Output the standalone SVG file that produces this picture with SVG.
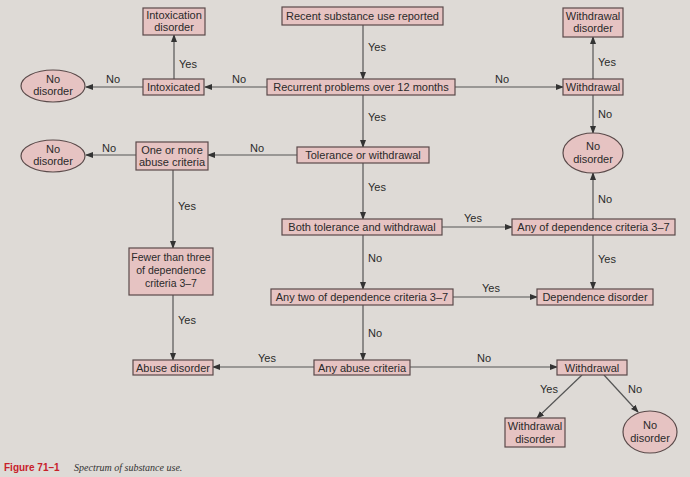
<svg xmlns="http://www.w3.org/2000/svg" width="690" height="477" viewBox="0 0 690 477">
<defs>
<marker id="a" markerWidth="8" markerHeight="8" refX="7" refY="4" orient="auto" markerUnits="userSpaceOnUse"><path d="M0,1 L8,4 L0,7 z" fill="#333"/></marker>
<style>
.b{fill:#e6c3c2;stroke:#5a4a4a;stroke-width:1.2}
.t{font-family:"Liberation Sans",Arial,sans-serif;font-size:11px;fill:#2a2a2a;text-anchor:middle}
.s{font-size:10.5px}
.l{font-family:"Liberation Sans",Arial,sans-serif;font-size:11px;fill:#2a2a2a}
#c line,#c path{stroke:#555;stroke-width:1.2;fill:none;marker-end:url(#a)}
</style>
</defs>
<rect width="690" height="477" fill="#dedad6"/>
<g id="c">
<line x1="363" y1="25" x2="363" y2="79"/>
<line x1="267" y1="87" x2="205" y2="87"/>
<line x1="455" y1="87" x2="563" y2="87"/>
<line x1="174" y1="79" x2="174" y2="35"/>
<line x1="143" y1="87" x2="86" y2="87"/>
<line x1="593" y1="79" x2="593" y2="37"/>
<line x1="593" y1="95" x2="593" y2="133"/>
<line x1="363" y1="95" x2="363" y2="147"/>
<line x1="297" y1="155" x2="208" y2="155"/>
<line x1="136" y1="155" x2="86" y2="155"/>
<line x1="173" y1="170" x2="173" y2="248"/>
<line x1="173" y1="295" x2="173" y2="360"/>
<line x1="363" y1="163" x2="363" y2="219"/>
<line x1="442" y1="227" x2="512" y2="227"/>
<line x1="593" y1="219" x2="593" y2="173"/>
<line x1="593" y1="235" x2="593" y2="289"/>
<line x1="363" y1="235" x2="363" y2="289"/>
<line x1="453" y1="297" x2="537" y2="297"/>
<line x1="363" y1="305" x2="363" y2="360"/>
<line x1="314" y1="367" x2="213" y2="367"/>
<line x1="410" y1="367" x2="557" y2="367"/>
<line x1="582" y1="375" x2="537" y2="418"/>
<line x1="604" y1="375" x2="638" y2="412"/>
</g>
<g id="labels" class="l">
<text x="368" y="51">Yes</text>
<text x="232" y="83">No</text>
<text x="495" y="83">No</text>
<text x="179" y="68">Yes</text>
<text x="106" y="83">No</text>
<text x="598" y="66">Yes</text>
<text x="598" y="118">No</text>
<text x="368" y="121">Yes</text>
<text x="250" y="152">No</text>
<text x="102" y="152">No</text>
<text x="178" y="210">Yes</text>
<text x="178" y="324">Yes</text>
<text x="368" y="191">Yes</text>
<text x="464" y="222">Yes</text>
<text x="598" y="203">No</text>
<text x="598" y="263">Yes</text>
<text x="368" y="262">No</text>
<text x="482" y="292">Yes</text>
<text x="368" y="337">No</text>
<text x="258" y="362">Yes</text>
<text x="477" y="362">No</text>
<text x="540" y="393">Yes</text>
<text x="628" y="393">No</text>
</g>
<g id="n1"><rect class="b" x="282" y="7" width="161" height="18"/><text class="t" x="362.5" y="20">Recent substance use reported</text></g>
<g id="n2"><rect class="b" x="143" y="8" width="62" height="27"/><text class="t" x="174" y="19">Intoxication</text><text class="t" x="174" y="31">disorder</text></g>
<g id="n3"><rect class="b" x="563" y="8" width="60" height="29"/><text class="t" x="593" y="20">Withdrawal</text><text class="t" x="593" y="32">disorder</text></g>
<g id="n4"><ellipse class="b" cx="53" cy="86" rx="32" ry="16"/><text class="t" x="53" y="83">No</text><text class="t" x="53" y="95">disorder</text></g>
<g id="n5"><rect class="b" x="143" y="79" width="61" height="16"/><text class="t" x="173.5" y="91">Intoxicated</text></g>
<g id="n6"><rect class="b" x="267" y="79" width="188" height="16"/><text class="t" x="361" y="91">Recurrent problems over 12 months</text></g>
<g id="n7"><rect class="b" x="563" y="79" width="60" height="16"/><text class="t" x="593" y="91">Withdrawal</text></g>
<g id="n8"><ellipse class="b" cx="593" cy="153" rx="30" ry="20"/><text class="t" x="593" y="150">No</text><text class="t" x="593" y="163">disorder</text></g>
<g id="n9"><ellipse class="b" cx="53" cy="156" rx="32" ry="16"/><text class="t" x="53" y="153">No</text><text class="t" x="53" y="165">disorder</text></g>
<g id="n10"><rect class="b" x="136" y="142" width="72" height="28"/><text class="t" x="172" y="154">One or more</text><text class="t" x="172" y="166">abuse criteria</text></g>
<g id="n11"><rect class="b" x="297" y="147" width="132" height="16"/><text class="t" x="363" y="159">Tolerance or withdrawal</text></g>
<g id="n12"><rect class="b" x="282" y="219" width="160" height="16"/><text class="t" x="362" y="231">Both tolerance and withdrawal</text></g>
<g id="n13"><rect class="b" x="512" y="219" width="163" height="16"/><text class="t" x="593.5" y="231">Any of dependence criteria 3–7</text></g>
<g id="n14"><rect class="b" x="129" y="248" width="84" height="47"/><text class="t s" x="171" y="261">Fewer than three</text><text class="t s" x="171" y="274">of dependence</text><text class="t s" x="171" y="287">criteria 3–7</text></g>
<g id="n15"><rect class="b" x="271" y="289" width="182" height="16"/><text class="t" x="362" y="301">Any two of dependence criteria 3–7</text></g>
<g id="n16"><rect class="b" x="537" y="289" width="116" height="16"/><text class="t" x="595" y="301">Dependence disorder</text></g>
<g id="n17"><rect class="b" x="133" y="360" width="80" height="15"/><text class="t" x="173" y="371.5">Abuse disorder</text></g>
<g id="n18"><rect class="b" x="314" y="360" width="96" height="15"/><text class="t" x="362" y="371.5">Any abuse criteria</text></g>
<g id="n19"><rect class="b" x="557" y="360" width="70" height="15"/><text class="t" x="592" y="371.5">Withdrawal</text></g>
<g id="n20"><rect class="b" x="505" y="418" width="60" height="29"/><text class="t" x="535" y="430">Withdrawal</text><text class="t" x="535" y="443">disorder</text></g>
<g id="n21"><ellipse class="b" cx="650" cy="432" rx="27" ry="21"/><text class="t" x="650" y="429">No</text><text class="t" x="650" y="442">disorder</text></g>
<text x="4" y="471" font-family="Liberation Sans,Arial,sans-serif" font-size="10" font-weight="bold" fill="#c8202a">Figure 71–1</text>
<text x="74" y="471" font-family="Liberation Serif,serif" font-size="10" font-style="italic" fill="#333">Spectrum of substance use.</text>
</svg>
